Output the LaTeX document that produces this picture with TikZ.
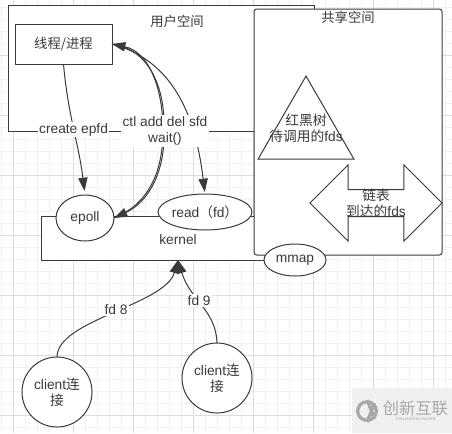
\documentclass[tikz,border=0pt]{standalone}
\usepackage{fontspec}
\setmainfont{Liberation Sans}
\newfontfamily\cjk{Noto Sans CJK SC}
\usepackage{xcolor}
\usepackage{tikz}
\usetikzlibrary{positioning,arrows.meta,shapes.geometric,shapes.arrows}
\definecolor{ink}{HTML}{3A3A3A}
\definecolor{gridmin}{HTML}{F1F1F1}
\definecolor{gridmaj}{HTML}{DDDDDD}
\definecolor{markbg}{HTML}{F0F0F0}
\definecolor{markfg}{HTML}{A8A8A8}

\begin{document}
\begin{tikzpicture}[x=0.75pt, y=-0.75pt, every node/.style={font=\fontsize{10.3}{12}\selectfont, text=ink}, line width=0.75pt,
  box/.style={draw=ink, fill=white, inner sep=0pt, outer sep=0pt, align=center},
  oval/.style={box, ellipse},
  lbl/.style={fill=white, inner sep=1pt, align=center},
  txt/.style={inner sep=0pt, align=center},
  link/.style={draw=ink, -{Triangle[length=10pt,width=7pt]}},
  minor/.style={gridmin, line width=0.5pt},
  major/.style={gridmaj, line width=0.5pt}]
\useasboundingbox (0,0) rectangle (452,433);
% grid
\foreach \i in {0,...,37} {\draw[minor] (1+12*\i,0)--(1+12*\i,433); \draw[minor] (0,7+12*\i)--(452,7+12*\i);}
\foreach \i in {0,...,7} {\draw[major] (13+60*\i,0)--(13+60*\i,433); \draw[major] (0,55+60*\i)--(452,55+60*\i);}
% watermark
\node[fill=markbg, minimum width=75pt, minimum height=33.75pt, inner sep=0pt] (mark) at (402,410.5) {};
\node[circle, draw=markfg, line width=2.4pt, minimum size=14pt, inner sep=0pt] (logo) at (367,411) {};
\draw[markfg, line width=2.4pt] (logo.north east)--(logo.south) (logo.south east)--(logo.north);
\node[txt, text=markfg, font=\cjk\fontsize{12.2}{12}\selectfont] (brand) at (415.5,408) {创新互联};
\node[txt, text=markfg, font=\fontsize{3}{3}\selectfont, below=1pt of brand] (brandsub) {CHUANGXIN HULIAN};
% spaces
\node[box, minimum width=229.5pt, minimum height=94.5pt] (user) at (161,68) {};
\node[txt, font=\cjk\fontsize{10}{12}\selectfont] (usertxt) at (177,21) {用户空间};
\node[box, minimum width=72.75pt, minimum height=30pt, font=\cjk\fontsize{10}{12}\selectfont] (thread) at (63.5,44) {线程/进程};
\node[box, minimum width=205.5pt, minimum height=33pt] (kernel) at (178,238) {};
\node[txt] (kerneltxt) at (178,240) {kernel};
\node[box, rounded corners=2pt, minimum width=141pt, minimum height=184.5pt] (shared) at (348,132) {};
\node[txt, font=\cjk\fontsize{10}{12}\selectfont] (sharedtxt) at (348,17) {共享空间};
\node[oval, minimum width=43.5pt, minimum height=34.5pt] (epoll) at (85,218) {epoll};
\node[oval, minimum width=69pt, minimum height=27pt] (read) at (205,212) {read{\cjk （}fd{\cjk ）}};
\node[oval, minimum width=46.5pt, minimum height=24pt] (mmap) at (295,260) {mmap};
% fds
\node[draw=ink, regular polygon, regular polygon sides=3, minimum size=83pt, inner sep=0pt] (tree) at (306,131.4) {};
\node[txt] (treetxt) at (306,128) {{\cjk 红黑树}\\{\cjk 待调用的}fds};
\node[draw=ink, double arrow, minimum height=99pt, inner sep=9.75pt, double arrow head extend=18.4pt, double arrow tip angle=90] (list) at (376,203) {};
\node[txt] (listtxt) at (376,203) {{\cjk 链表}\\{\cjk 到达的}fds};
% clients
\node[box, circle, minimum size=52.5pt] (clienta) at (57,392) {client{\cjk 连}\\{\cjk 接}};
\node[box, circle, minimum size=52.5pt] (clientb) at (217,378) {client{\cjk 连}\\{\cjk 接}};
% links
\draw[link, shorten >=3pt] (thread.south) to[out=-85, in=97] node[lbl, pos=.5] (create) {create epfd} (epoll.north);
\draw[link] (thread.east) to[out=-8, in=88] (164,130) to[out=-88, in=25] (epoll.east);
\draw[link] (epoll.east) to[out=22, in=-90] (163,130) to[out=90, in=-12] (thread.east);
\draw[link, shorten >=1.5pt] (thread.east) to[out=-15, in=97] (read.north);
\node[lbl] (ctl) at (165,131) {ctl add del sfd\\wait()};
\draw[link] (clienta.north) .. controls (57,320) and (165,305) .. node[lbl, pos=.52] (fda) {fd 8} (kernel.south);
\draw[link] (clientb.north) .. controls (216,310) and (190,300) .. node[lbl, pos=.55] (fdb) {fd 9} (kernel.south);
\end{tikzpicture}
\end{document}
